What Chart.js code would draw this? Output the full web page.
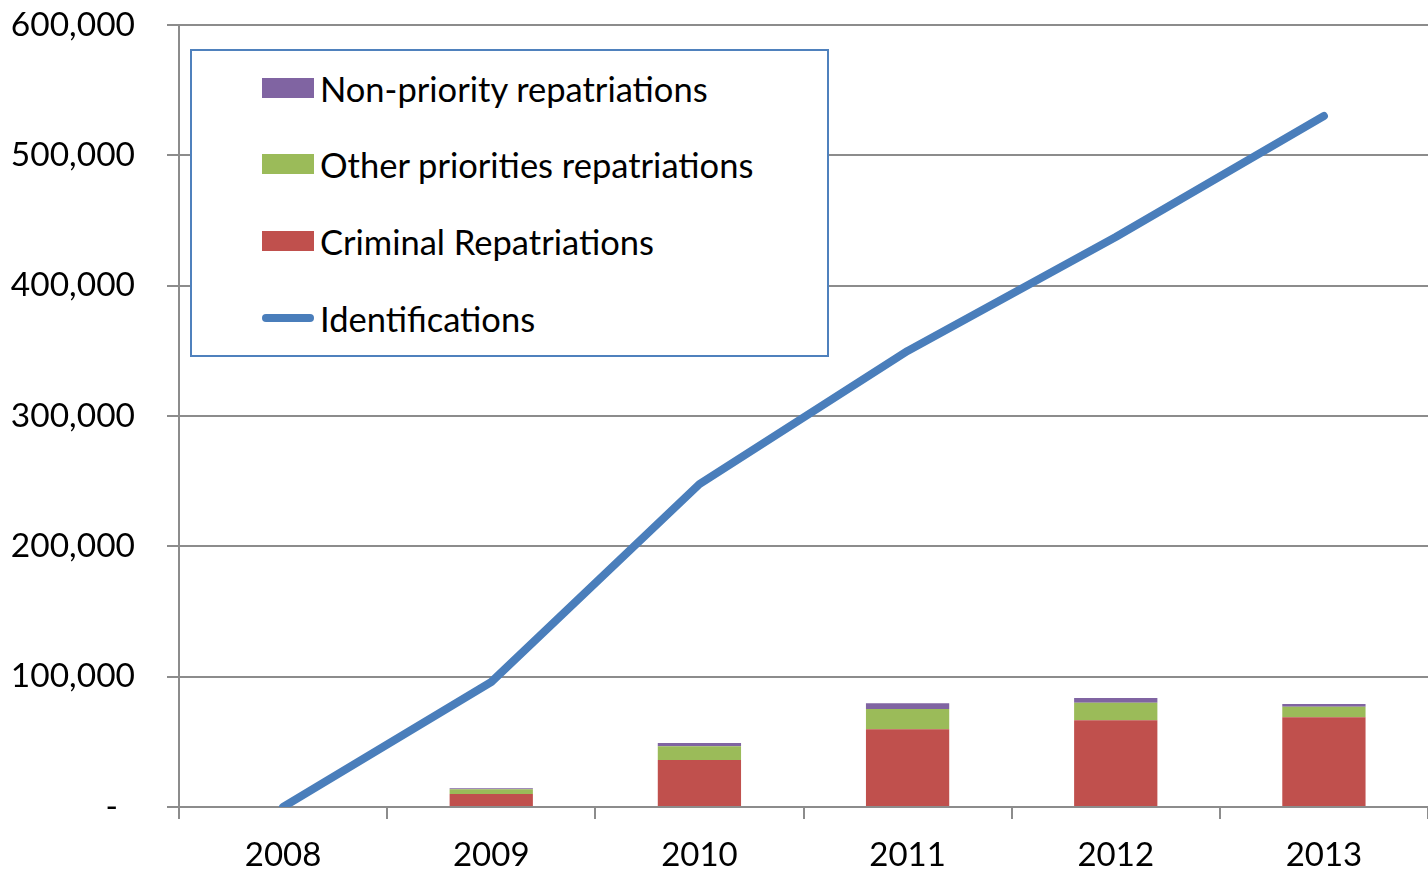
<!DOCTYPE html>
<html>
<head>
<meta charset="utf-8">
<script src="https://cdn.jsdelivr.net/npm/chart.js@4.4.1/dist/chart.umd.min.js"></script>
<style>
  html, body { margin: 0; padding: 0; background: #fff; }
  #wrap { position: relative; width: 1428px; height: 870px; }
  #legend { position: absolute; left: 190px; top: 49px; width: 639px; height: 308px; box-sizing: border-box;
    border: 2px solid #4F81BD; background: #fff; font-family: Lato, "Open Sans", sans-serif; font-size: 34.5px; color: #000; }
  .item { position: absolute; left: 70px; height: 40px; display: flex; align-items: center; white-space: nowrap; }
  .sw { width: 52px; height: 20px; margin-right: 6px; flex: none; }
  .ln { width: 52px; height: 8px; border-radius: 4px; margin-right: 6px; flex: none; }
</style>
</head>
<body>
<div id="wrap">
  <canvas id="c" width="1428" height="870"></canvas>
  <div id="legend"></div>
</div>
<script>
const categories = ['2008', '2009', '2010', '2011', '2012', '2013'];
const criminal = [0, 10000, 36000, 59600, 66500, 68800];
const otherPriorities = [0, 3600, 10700, 15600, 13500, 8100];
const nonPriority = [0, 800, 2500, 4400, 3600, 2100];
const identifications = [0, 95900, 247800, 349900, 437300, 530200];
const yTicks = [0, 100000, 200000, 300000, 400000, 500000, 600000];

const names = {
  non: 'Non-priority repatriations',
  other: 'Other priorities repatriations',
  crim: 'Criminal Repatriations',
  ident: 'Identifications'
};
const colors = { non: '#8064A2', other: '#9BBB59', crim: '#C0504D', ident: '#4A7EBB' };

const FONT = 'Lato, "Open Sans", sans-serif';
const GRID = '#8C8C8C';

new Chart(document.getElementById('c'), {
  type: 'bar',
  data: {
    labels: categories,
    datasets: [
      { type: 'line', label: names.ident, data: identifications, borderColor: colors.ident, backgroundColor: colors.ident,
        borderWidth: 8, pointRadius: 0, tension: 0, borderCapStyle: 'round', borderJoinStyle: 'round', stack: 'line', order: 0 },
      { label: names.crim, data: criminal, backgroundColor: colors.crim, stack: 'bars', order: 1 },
      { label: names.other, data: otherPriorities, backgroundColor: colors.other, stack: 'bars', order: 1 },
      { label: names.non, data: nonPriority, backgroundColor: colors.non, stack: 'bars', order: 1 }
    ]
  },
  options: {
    responsive: false,
    devicePixelRatio: 1,
    animation: false,
    layout: { padding: { top: 0, right: 0, left: 0, bottom: 0 } },
    datasets: { bar: { barPercentage: 0.4, categoryPercentage: 1.0 } },
    plugins: { legend: { display: false }, tooltip: { enabled: false } },
    scales: {
      x: {
        stacked: true,
        grid: { offset: true, drawOnChartArea: false, drawTicks: true, tickLength: 12, color: GRID, lineWidth: 2 },
        border: { display: true, color: GRID, width: 2 },
        ticks: { font: { family: FONT, size: 33 }, color: '#000', padding: 17, maxRotation: 0 },
        afterFit(s) { s.height = 63; s.paddingLeft = 0; s.paddingRight = 0; }
      },
      y: {
        stacked: true,
        min: 0, max: 600000,
        afterBuildTicks(s) { s.ticks = yTicks.map(v => ({ value: v })); },
        grid: { color: GRID, lineWidth: 2, drawTicks: true, tickLength: 12 },
        border: { display: true, color: GRID, width: 2 },
        ticks: {
          font: { family: FONT, size: 33.5 }, color: '#000', padding: 32,
          callback: v => v === 0 ? '-  ' : v.toLocaleString('en-US')
        },
        afterFit(s) { s.width = 179; s.paddingTop = 25; s.paddingBottom = 0; }
      }
    }
  }
});

// HTML legend
const legendItems = [
  { key: 'non', kind: 'box', top: 17 },
  { key: 'other', kind: 'box', top: 93 },
  { key: 'crim', kind: 'box', top: 170 },
  { key: 'ident', kind: 'line', top: 247 }
];
const lg = document.getElementById('legend');
legendItems.forEach(it => {
  const d = document.createElement('div');
  d.className = 'item';
  d.style.top = it.top + 'px';
  const s = document.createElement('span');
  s.className = it.kind === 'box' ? 'sw' : 'ln';
  s.style.background = colors[it.key];
  const t = document.createElement('span');
  t.textContent = names[it.key];
  d.appendChild(s); d.appendChild(t);
  lg.appendChild(d);
});
</script>
</body>
</html>
